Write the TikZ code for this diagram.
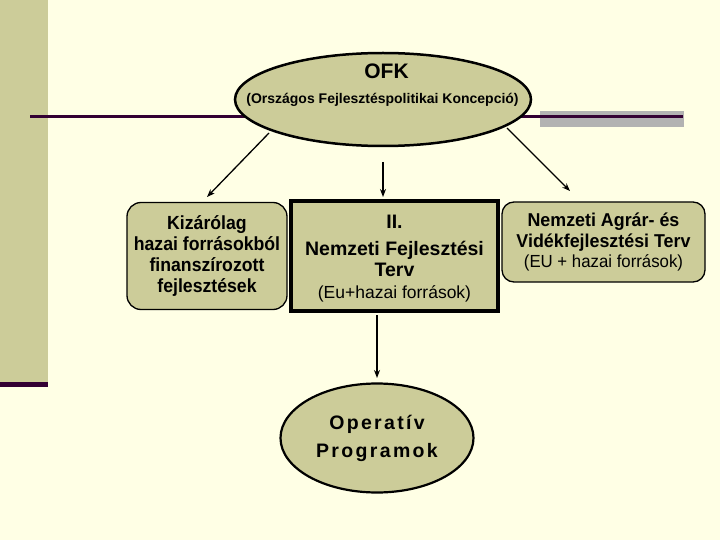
\documentclass[tikz,border=0pt]{standalone}
\usepackage{fontspec}
\setmainfont{Liberation Sans}
\newfontfamily\opfont[LetterSpace=12]{Liberation Sans}
\newfontfamily\narrowfont[FakeStretch=0.93]{Liberation Sans}
\newfontfamily\semifont[FakeStretch=0.96]{Liberation Sans}
\usetikzlibrary{shapes.geometric,arrows.meta}
\definecolor{bg}{HTML}{FFFFE5}
\definecolor{khaki}{HTML}{CCCC99}
\definecolor{plum}{HTML}{330033}
\definecolor{grayband}{HTML}{B2B2B2}
\begin{document}
\begin{tikzpicture}[x=1pt,y=-1pt,
  rbox/.style={draw=black, fill=khaki, line width=1.3pt, rounded corners=14pt, align=center, inner sep=0pt},
  oval/.style={ellipse, draw=black, fill=khaki, inner sep=0pt, align=center},
  arr/.style={-{Stealth[length=8pt,width=6pt]}, line width=1.3pt, black}]
\fill[bg] (0,0) rectangle (720,540);
\useasboundingbox (0,0) rectangle (720,540);
\fill[khaki] (0,0) rectangle (48,382);
\fill[plum] (0,382) rectangle (48,387);
\fill[grayband] (540,111) rectangle (684,127);
\draw[plum, line width=3pt] (30,117) -- (683,117);
\node[oval, line width=2.5pt, minimum width=296pt, minimum height=93pt] (ofk) at (383,99.5) {};
\node[anchor=base, inner sep=0pt, font=\fontsize{21}{24}\bfseries\selectfont] (ofkt) at (386.5,79) {OFK};
\node[anchor=base, inner sep=0pt, font=\fontsize{14}{16}\bfseries\selectfont] (ofks) at (382.5,104) {(Országos Fejlesztéspolitikai Koncepció)};
\node[rbox, minimum width=160pt, minimum height=107pt, font=\narrowfont\fontsize{19}{21}\bfseries\selectfont] (lb) at (207,256) {Kizárólag\\hazai forrásokból\\finanszírozott\\fejlesztések};
\node[draw=black, line width=3.3pt, fill=khaki, minimum width=207pt, minimum height=110pt, align=center, inner sep=0pt, font=\fontsize{19.5}{21.5}\bfseries\selectfont] (mb) at (394.5,256) {\rule{0pt}{19pt}II.\\[5pt]Nemzeti Fejlesztési\\Terv\\{\mdseries\fontsize{17.5}{21.5}\selectfont(Eu+hazai források)}};
\node[rbox, rounded corners=12pt, minimum width=203pt, minimum height=80pt, font=\semifont\fontsize{18.6}{20.5}\bfseries\selectfont] (rb) at (603.5,242) {Nemzeti Agrár- és\\Vidékfejlesztési Terv\\{\mdseries\fontsize{17.5}{20.5}\selectfont(EU + hazai források)}};
\node[oval, line width=2.2pt, minimum width=193pt, minimum height=109pt, font=\opfont\fontsize{19.5}{28}\bfseries\selectfont] (op) at (377,438) {Operatív\\Programok};
\coordinate (a1s) at (269,133);
\coordinate (a1e) at (207,197);
\coordinate (a2s) at (383,162);
\coordinate (a2e) at (383,197);
\coordinate (a3s) at (507,128);
\coordinate (a3e) at (570,191);
\coordinate (a4s) at (377,315);
\coordinate (a4e) at (377,378);
\draw[arr] (a1s) -- (a1e);
\draw[arr] (a2s) -- (a2e);
\draw[arr] (a3s) -- (a3e);
\draw[arr] (a4s) -- (a4e);
\end{tikzpicture}
\end{document}
